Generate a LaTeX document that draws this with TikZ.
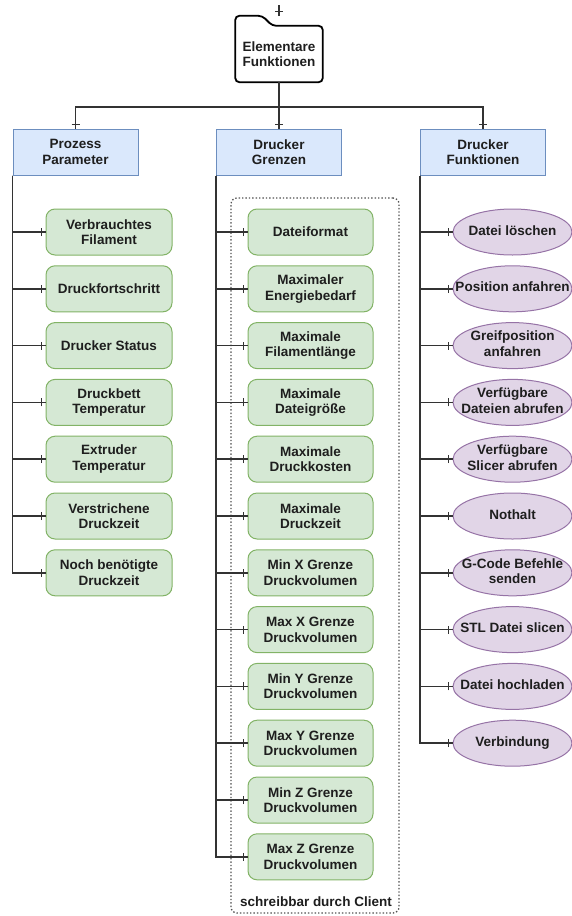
\documentclass[tikz,border=0pt]{standalone}
\usepackage{fontspec}
\setmainfont{Liberation Sans}
\usetikzlibrary{shapes.geometric,decorations.markings,calc,backgrounds}
\definecolor{linec}{HTML}{333333}
\definecolor{txt}{HTML}{1E1E1E}
\definecolor{hdfill}{HTML}{DAE8FC}
\definecolor{hddraw}{HTML}{6C8EBF}
\definecolor{gnfill}{HTML}{D5E8D4}
\definecolor{gndraw}{HTML}{82B366}
\definecolor{pufill}{HTML}{E1D5E7}
\definecolor{pudraw}{HTML}{9673A6}
\newcommand\ovl[1]{\makebox[0pt]{\begin{tabular}{@{}c@{}}#1\end{tabular}}}
\begin{document}
\begin{tikzpicture}[x=1pt,y=-1pt,
  lbl/.style={font=\fontsize{13.5}{15.5}\selectfont\bfseries, text=txt, align=center, inner sep=0pt},
  hdbox/.style={lbl, rectangle, fill=hdfill, draw=hddraw, line width=1pt, minimum width=125pt, minimum height=46pt},
  gnbox/.style={lbl, rectangle, rounded corners=9pt, fill=gnfill, draw=gndraw, line width=1pt, minimum width=126pt, minimum height=46pt},
  puell/.style={lbl, ellipse, fill=pufill, draw=pudraw, line width=1pt, minimum width=119pt, minimum height=46pt},
  conn/.style={draw=linec, line width=1.6pt, postaction={decorate},
    decoration={markings, mark=at position -4pt with {\draw[linec, line width=1.2pt] (0,-4pt) -- (0,4pt);}}},
  grpbox/.style={draw=linec!85, line width=1.3pt, dash pattern=on 1.4pt off 2pt, rounded corners=6pt, minimum width=168pt, minimum height=715pt, inner sep=0pt}
]
\useasboundingbox (0,0) rectangle (571,916);

% root folder
\node[lbl, minimum width=87pt, minimum height=56pt] (root) at (279,54) {Elementare\\Funktionen};
\begin{scope}[on background layer]
\draw[line width=1.8pt, black, fill=white, rounded corners=4pt]
  ([yshift=10pt]root.north west) -- ([xshift=27pt,yshift=10pt]root.north west) -- ([xshift=37pt]root.north west)
  -- (root.north east) -- (root.south east) -- (root.south west) -- cycle;
\end{scope}
\coordinate (roottop) at ([yshift=10pt]root.north);
\coordinate (topin) at (279,5);
\draw[conn] (topin) -- (roottop);

% headers
\node[hdbox] (pp) at (75.5,152) {Prozess\\Parameter};
\node[hdbox] (dg) at (279,152) {Drucker\\Grenzen};
\node[hdbox] (df) at (483,152) {Drucker\\Funktionen};

\draw[conn] (root.south) -- ++(0,25) -| (pp.north);
\draw[conn] (root.south) -- (dg.north);
\draw[conn] (root.south) -- ++(0,25) -| (df.north);

% group container
\node[grpbox] (grp) at (315,555.5) {};
\node[lbl] (grplbl) at (316,902) {schreibbar durch Client};

% left column
\foreach \i/\t in {0/{Verbrauchtes\\Filament},1/Druckfortschritt,2/Drucker Status,3/{Druckbett\\Temperatur},4/{Extruder\\Temperatur},5/{Verstrichene\\Druckzeit},6/{Noch benötigte\\Druckzeit}}{
  \node[gnbox] (p\i) at (109,232+\i*56.8) {\t};
  \draw[conn] (pp.south west) |- (p\i.west);
}

% middle column
\foreach \i/\t in {0/Dateiformat,1/{Maximaler\\Energiebedarf},2/{Maximale\\Filamentlänge},3/{Maximale\\Dateigröße},4/{Maximale\\Druckkosten},5/{Maximale\\Druckzeit},6/{Min X Grenze\\Druckvolumen},7/{Max X Grenze\\Druckvolumen},8/{Min Y Grenze\\Druckvolumen},9/{Max Y Grenze\\Druckvolumen},10/{Min Z Grenze\\Druckvolumen},11/{Max Z Grenze\\Druckvolumen}}{
  \node[gnbox, minimum width=125pt] (g\i) at (310.5,232+\i*56.8) {\t};
  \draw[conn] (dg.south west) |- (g\i.west);
}

% right column
\foreach \i/\t in {0/Datei löschen,1/Position anfahren,2/{Greifposition\\anfahren},3/{Verfügbare\\Dateien abrufen},4/{Verfügbare\\Slicer abrufen},5/Nothalt,6/{G-Code Befehle\\senden},7/STL Datei slicen,8/Datei hochladen,9/Verbindung}{
  \node[puell] (f\i) at (512.5,232+\i*56.8) {\ovl{\t}};
  \draw[conn] (df.south west) |- (f\i.west);
}
\end{tikzpicture}
\end{document}
